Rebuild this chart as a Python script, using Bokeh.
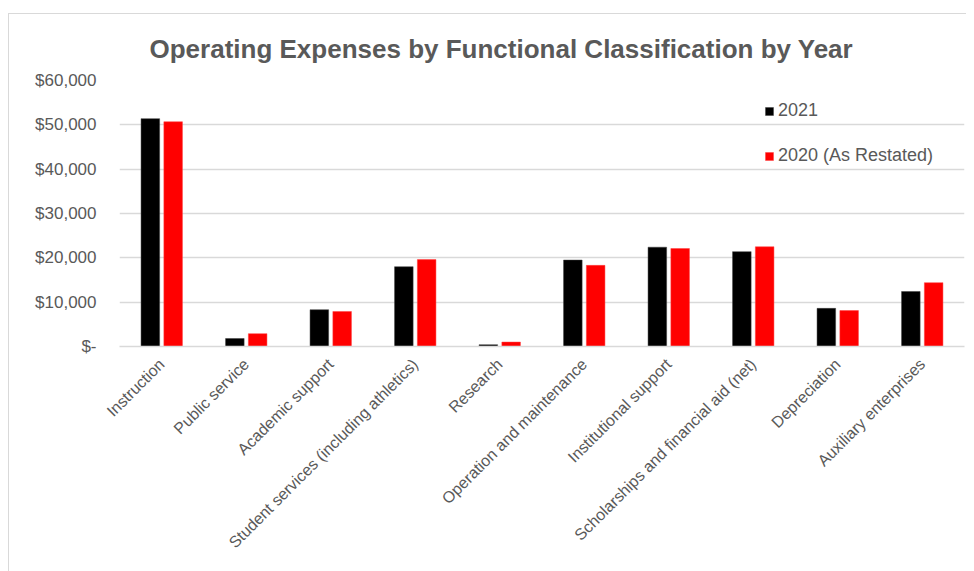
from bokeh.plotting import figure
from bokeh.models import ColumnDataSource, FactorRange, FixedTicker, Legend, LegendItem, Title
from bokeh.transform import dodge
from bokeh.embed import file_html
from bokeh.resources import INLINE
from math import pi

categories = ["Instruction", "Public service", "Academic support",
              "Student services (including athletics)", "Research",
              "Operation and maintenance", "Institutional support",
              "Scholarships and financial aid (net)", "Depreciation",
              "Auxiliary enterprises"]
values_2021 = [51400, 1800, 8300, 18000, 400, 19500, 22400, 21400, 8600, 12400]
values_2020 = [50700, 2900, 7900, 19600, 1000, 18300, 22100, 22500, 8100, 14400]
series_names = ["2021", "2020 (As Restated)"]
y_ticks = [0, 10000, 20000, 30000, 40000, 50000, 60000]
y_tick_labels = ["$-", "$10,000", "$20,000", "$30,000", "$40,000", "$50,000", "$60,000"]

TEXT = "#595959"
GRID = "#d9d9d9"

src = ColumnDataSource(dict(cat=categories, v21=values_2021, v20=values_2020))

p = figure(x_range=FactorRange(*categories), y_range=(0, 60000),
           width=958, height=558, output_backend="svg", toolbar_location=None,
           min_border_left=110, min_border_right=3, min_border_top=66,
           min_border_bottom=226)
p.margin = (13, 0, 0, 8)
p.styles = {"border-top": "1px solid #d9d9d9", "border-left": "1px solid #d9d9d9"}
p.outline_line_color = None

r1 = p.vbar(x=dodge("cat", -0.135, range=p.x_range), top="v21", width=0.22,
            source=src, fill_color="black", line_color="#404040", line_width=0.5)
r2 = p.vbar(x=dodge("cat", 0.135, range=p.x_range), top="v20", width=0.22,
            source=src, fill_color="#ff0000", line_color="#ff4040", line_width=0.5)

t = Title(text="Operating Expenses by Functional Classification by Year",
          align="left", offset=30, text_font="Liberation Sans",
          text_font_size="26px", text_font_style="bold", text_color=TEXT,
          standoff=33)
p.add_layout(t, "above")

p.xgrid.grid_line_color = None
p.ygrid.grid_line_color = GRID
p.ygrid.grid_line_width = 1.5
p.yaxis.ticker = FixedTicker(ticks=y_ticks)
p.yaxis.major_label_overrides = dict(zip(y_ticks, y_tick_labels))
p.yaxis.axis_line_color = None
p.yaxis.major_tick_line_color = None
p.yaxis.minor_tick_line_color = None
p.yaxis.major_label_standoff = 17
p.yaxis.major_label_text_font = "Liberation Sans"
p.yaxis.major_label_text_font_size = "17px"
p.yaxis.major_label_text_color = TEXT

p.xaxis.axis_line_color = GRID
p.xaxis.axis_line_width = 1.5
p.xaxis.major_tick_line_color = None
p.xaxis.minor_tick_line_color = None
p.xaxis.major_label_orientation = pi / 4
p.xaxis.major_label_standoff = 9
p.xaxis.major_label_text_font = "Liberation Sans"
p.xaxis.major_label_text_font_size = "16px"
p.xaxis.major_label_text_color = TEXT

legend = Legend(items=[LegendItem(label=series_names[0], renderers=[r1]),
                       LegendItem(label=series_names[1], renderers=[r2])],
                location=(645, 180), orientation="vertical",
                padding=0, margin=0, spacing=24,
                glyph_width=10, glyph_height=10, label_standoff=4,
                label_text_font="Liberation Sans", label_text_font_size="18px",
                label_text_color=TEXT, border_line_color=None,
                background_fill_alpha=0)
p.add_layout(legend, "center")

open("out.html", "w").write(file_html(p, INLINE))
